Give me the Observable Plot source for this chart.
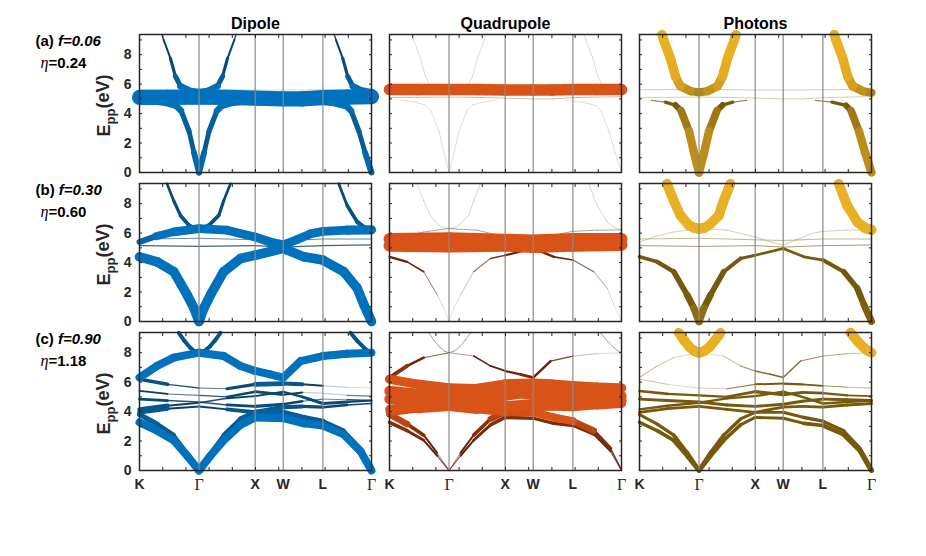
<!DOCTYPE html>
<html>
<head>
<meta charset="utf-8">
<script src="https://cdn.jsdelivr.net/npm/d3@7"></script>
<script src="https://cdn.jsdelivr.net/npm/@observablehq/plot@0.6"></script>
<style>
  html, body { margin: 0; padding: 0; background: #fff; }
  svg { display: block; }
</style>
</head>
<body>
<div id="chart"></div>
<script>
// ---------- data ----------
const columns = ["D", "Q", "P"];
const columnTitles = ["Dipole", "Quadrupole", "Photons"];
const rowKeys = ["a", "b", "c"];
const fillFractions = ["0.06", "0.30", "0.90"];
const etaValues = ["0.24", "0.60", "1.18"];

// high-symmetry points along K-Γ-X-W-L-Γ (path length units)
const symK = [0, 1.0607, 2.0607, 2.5607, 3.2678, 4.1338];
const symLabels = ["K", "Γ", "X", "W", "L", "Γ"];
const yMajorTicks = [0, 2, 4, 6, 8];
const yMinorTicks = [0, 1, 2, 3, 4, 5, 6, 7, 8, 9];
const xMinorTicks = [0.4134, 0.8268, 1.2401, 1.6535, 2.0669, 2.4803, 2.8937, 3.3070, 3.7204];
const yMax = 9.37;

// bands: k (path), e (eV), d / q / p = dipole, quadrupole, photon weights
const ks10 = [0, 0.5, 1.0607, 1.56, 2.0607, 2.5607, 2.9, 3.2678, 3.7, 4.1338];

const bandsA = [
  { k: ks10, e: [5.1, 5.1, 5.12, 5.1, 5.05, 5.0, 5.0, 5.08, 5.12, 5.15], d: 0.95, q: 0.04, p: 0.04 },
  { k: ks10, e: [5.63, 5.63, 5.63, 5.63, 5.6, 5.6, 5.6, 5.63, 5.63, 5.63], d: 0.03, q: 0.72, p: 0.04 },
  { k: [0.40, 0.43, 0.55, 0.64, 0.73, 0.91, 1.0607, 1.21, 1.39, 1.48, 1.57, 1.69, 1.72],
    e: [9.37, 9.01, 7.77, 6.53, 5.86, 5.52, 5.45, 5.52, 5.86, 6.53, 7.77, 9.01, 9.37],
    d: [0.08, 0.1, 0.15, 0.25, 0.38, 0.45, 0.45, 0.45, 0.38, 0.25, 0.15, 0.1, 0.08],
    q: 0.025,
    p: [0.6, 0.6, 0.6, 0.58, 0.55, 0.52, 0.5, 0.52, 0.55, 0.58, 0.6, 0.6, 0.6] },
  { k: [0.21, 0.46, 0.64, 0.74, 0.883, 0.971, 1.0607, 1.151, 1.239, 1.381, 1.481, 1.661, 1.911],
    e: [4.9, 4.78, 4.58, 4.2, 2.8, 1.35, 0, 1.35, 2.8, 4.2, 4.58, 4.78, 4.9],
    d: [0.5, 0.5, 0.45, 0.35, 0.3, 0.3, 0.45, 0.3, 0.3, 0.35, 0.45, 0.5, 0.5],
    q: 0.02,
    p: [0.02, 0.12, 0.3, 0.45, 0.52, 0.53, 0.53, 0.53, 0.52, 0.45, 0.3, 0.12, 0.02] },
  { k: [3.47, 3.50, 3.62, 3.71, 3.80, 3.98, 4.1338],
    e: [9.37, 9.01, 7.77, 6.53, 5.86, 5.52, 5.42],
    d: [0.08, 0.1, 0.15, 0.25, 0.38, 0.45, 0.5], q: 0.025,
    p: [0.6, 0.6, 0.6, 0.58, 0.55, 0.52, 0.5] },
  { k: [3.13, 3.43, 3.68, 3.77, 3.91, 4.02, 4.1338],
    e: [4.9, 4.78, 4.55, 4.2, 2.8, 1.35, 0],
    d: [0.5, 0.5, 0.45, 0.35, 0.3, 0.3, 0.45], q: 0.02,
    p: [0.02, 0.12, 0.3, 0.45, 0.52, 0.53, 0.53] }
];

const bandsB = [
  { k: [0, 0.3, 0.61, 1.0607, 1.56, 2.0607, 2.33, 2.5607, 2.8, 3.05, 3.2678, 3.7, 4.1338],
    e: [5.4, 5.8, 6.08, 6.31, 6.2, 5.74, 5.4, 5.2, 5.55, 5.96, 6.12, 6.2, 6.22],
    d: [0.3, 0.45, 0.55, 0.55, 0.55, 0.55, 0.55, 0.55, 0.55, 0.55, 0.55, 0.55, 0.6],
    q: 0.05, p: 0.04 },
  { k: [0, 0.315, 0.61, 0.85, 0.97, 1.0607, 1.146, 1.265, 1.50, 1.80, 2.0607, 2.5607, 2.93, 3.2678, 3.64, 3.88, 4.0, 4.1338],
    e: [4.39, 4.05, 3.38, 1.8, 0.9, 0, 0.9, 1.8, 3.38, 4.28, 4.5, 4.96, 4.39, 4.17, 3.38, 2.26, 1.13, 0],
    d: 0.6,
    q: [0.15, 0.12, 0.08, 0.04, 0.02, 0.01, 0.02, 0.03, 0.05, 0.08, 0.1, 0.18, 0.12, 0.08, 0.06, 0.04, 0.02, 0.01],
    p: [0.2, 0.25, 0.3, 0.4, 0.45, 0.47, 0.45, 0.4, 0.3, 0.2, 0.17, 0.17, 0.17, 0.2, 0.3, 0.38, 0.42, 0.45] },
  { k: [0.49, 0.61, 0.73, 0.88, 0.97, 1.0607, 1.15, 1.235, 1.413, 1.50, 1.62],
    e: [9.35, 8.2, 7.2, 6.53, 6.36, 6.31, 6.36, 6.53, 7.2, 8.2, 9.35],
    d: [0.15, 0.18, 0.22, 0.25, 0.28, 0.3, 0.28, 0.25, 0.22, 0.18, 0.15], q: 0.03,
    p: [0.62, 0.62, 0.62, 0.62, 0.63, 0.65, 0.63, 0.62, 0.62, 0.62, 0.62] },
  { k: [3.55, 3.70, 3.88, 4.02, 4.1338],
    e: [9.35, 7.88, 6.76, 6.35, 6.22],
    d: [0.15, 0.2, 0.25, 0.3, 0.35], q: 0.03, p: [0.62, 0.62, 0.62, 0.63, 0.65] },
  { k: [0, 1.0607, 2.0607, 2.5607, 3.2678, 4.1338], e: [5.6, 5.65, 5.55, 5.5, 5.6, 5.6], d: 0.06, q: 0.75, p: 0.05 },
  { k: [0, 1.0607, 2.0607, 2.5607, 3.2678, 4.1338], e: [5.15, 5.1, 5.15, 5.05, 5.15, 5.2], d: 0.08, q: 0.75, p: 0.06 }
];

const ks15 = [0, 0.315, 0.61, 0.85, 1.0607, 1.265, 1.50, 1.80, 2.0607, 2.5607, 2.93, 3.2678, 3.64, 3.94, 4.1338];
const bandsC = [
  { k: [0, 0.315, 0.61, 1.0607, 1.50, 1.80, 2.0607, 2.33, 2.5607, 2.87, 3.2678, 3.70, 4.1338],
    e: [6.31, 7.1, 7.66, 8.0, 7.77, 7.1, 6.76, 6.53, 6.31, 7.43, 7.77, 7.93, 8.0],
    d: 0.5,
    q: [0.3, 0.2, 0.12, 0.02, 0.08, 0.12, 0.12, 0.15, 0.2, 0.12, 0.05, 0.03, 0.02],
    p: [0.06, 0.05, 0.04, 0.03, 0.04, 0.06, 0.08, 0.1, 0.1, 0.08, 0.06, 0.05, 0.04] },
  { k: [0.70, 0.80, 0.90, 0.98, 1.0607, 1.15, 1.25, 1.35, 1.443],
    e: [9.35, 8.8, 8.35, 8.1, 8.0, 8.1, 8.4, 8.85, 9.35],
    d: 0.25, q: 0.05, p: 0.62 },
  { k: [3.76, 3.88, 4.0, 4.07, 4.1338], e: [9.35, 8.8, 8.34, 8.12, 8.0], d: 0.25, q: 0.05, p: 0.62 },
  { k: ks15,
    e: [3.27, 2.7, 2.05, 1.0, 0, 1.0, 2.05, 3.1, 3.6, 3.55, 3.2, 3.05, 2.45, 1.3, 0],
    d: 0.5,
    q: [0.25, 0.2, 0.15, 0.1, 0.05, 0.1, 0.15, 0.2, 0.25, 0.2, 0.2, 0.2, 0.15, 0.1, 0.05],
    p: [0.2, 0.22, 0.25, 0.28, 0.3, 0.28, 0.25, 0.2, 0.18, 0.18, 0.2, 0.25, 0.3, 0.32, 0.35] },
  { k: ks15,
    e: [3.8, 3.15, 2.4, 1.2, 0, 1.2, 2.4, 3.5, 3.95, 3.95, 3.6, 3.35, 2.7, 1.5, 0.05],
    d: [0.35, 0.3, 0.25, 0.2, 0.2, 0.2, 0.25, 0.3, 0.35, 0.35, 0.3, 0.3, 0.25, 0.2, 0.2],
    q: [0.5, 0.3, 0.15, 0.08, 0.03, 0.08, 0.15, 0.3, 0.45, 0.5, 0.5, 0.5, 0.3, 0.12, 0.05],
    p: [0.18, 0.2, 0.22, 0.25, 0.28, 0.25, 0.22, 0.2, 0.18, 0.18, 0.2, 0.22, 0.2, 0.15, 0.1] },
  { k: ks10, e: [6.2, 5.85, 5.6, 5.55, 5.85, 5.9, 5.85, 5.75, 5.65, 5.6],
    d: [0.3, 0.15, 0.03, 0.1, 0.3, 0.3, 0.2, 0.05, 0.03, 0.02],
    q: [0.55, 0.6, 0.6, 0.6, 0.65, 0.65, 0.6, 0.6, 0.6, 0.6],
    p: [0.05, 0.04, 0.03, 0.05, 0.1, 0.15, 0.15, 0.08, 0.05, 0.05] },
  { k: ks10, e: [5.4, 5.2, 5.1, 5.0, 5.35, 5.15, 5.3, 5.25, 5.1, 5.05],
    d: [0.12, 0.1, 0.03, 0.15, 0.15, 0.2, 0.05, 0.03, 0.05, 0.08],
    q: 0.65, p: [0.18, 0.15, 0.12, 0.15, 0.2, 0.2, 0.18, 0.15, 0.12, 0.12] },
  { k: ks10, e: [4.85, 4.75, 4.65, 4.45, 4.35, 4.5, 4.7, 4.85, 4.8, 4.75],
    d: [0.2, 0.15, 0.03, 0.15, 0.2, 0.2, 0.1, 0.04, 0.08, 0.12], q: 0.65, p: 0.18 },
  { k: ks10, e: [4.15, 4.4, 4.6, 4.9, 5.05, 5.35, 5.0, 4.55, 4.65, 4.75],
    d: [0.35, 0.2, 0.04, 0.15, 0.1, 0.15, 0.12, 0.25, 0.15, 0.1],
    q: [0.5, 0.6, 0.6, 0.6, 0.6, 0.6, 0.6, 0.55, 0.6, 0.6], p: 0.15 },
  { k: ks10, e: [3.95, 4.2, 4.35, 4.15, 3.95, 4.3, 4.35, 4.3, 4.45, 4.55],
    d: [0.35, 0.2, 0.05, 0.2, 0.3, 0.3, 0.2, 0.2, 0.12, 0.08],
    q: [0.4, 0.55, 0.6, 0.55, 0.45, 0.5, 0.55, 0.5, 0.55, 0.6], p: 0.18 }
];

// ---------- derived tables ----------
const bandSets = { a: bandsA, b: bandsB, c: bandsC };
const weightKey = { D: "d", Q: "q", P: "p" };
const at = (v, i) => Array.isArray(v) ? v[i] : v;
const segments = [];
for (const row of rowKeys) {
  for (const band of bandSets[row]) {
    for (const col of columns) {
      const wt = band[weightKey[col]];
      for (let i = 0; i < band.k.length - 1; i++) {
        segments.push({
          row, col,
          k1: band.k[i], e1: band.e[i], k2: band.k[i + 1], e2: band.e[i + 1],
          w: (at(wt, i) + at(wt, i + 1)) / 2
        });
      }
    }
  }
}
segments.sort((a, b) => a.w - b.w);

const palette = {
  D: d3.scaleLinear().domain([0.1, 0.45]).range(["#0c3d5e", "#0072bd"]).clamp(true),
  Q: d3.scaleLinear().domain([0.1, 0.5]).range(["#5e1d06", "#d95319"]).clamp(true),
  P: d3.scaleLinear().domain([0.42, 0.6]).range(["#76590b", "#eab024"]).clamp(true)
};

const titleRows = columns.map((col, i) => ({ col, row: "a", t: columnTitles[i] }));
const rowLabelRows = rowKeys.map((row, i) => ({ col: "D", row, f: fillFractions[i], eta: etaValues[i] }));
const kLabelRows = [];
for (const col of columns) symK.forEach((k, i) => kLabelRows.push({ col, row: "c", k, label: symLabels[i] }));
const kSans = kLabelRows.filter(d => d.label !== "Γ");
const kGamma = kLabelRows.filter(d => d.label === "Γ");
const innerLines = symK.slice(1, -1);

const ink = "#262626";
const chart = Plot.plot({
  width: 926,
  height: 556,
  marginLeft: 139,
  marginRight: 55,
  marginTop: 33,
  marginBottom: 84,
  style: { fontFamily: "'Liberation Sans', Arial, sans-serif", color: ink, background: "#fff" },
  x: { domain: [0, symK[symK.length - 1]], axis: null },
  y: { domain: [0, yMax], axis: null },
  fx: { domain: columns, paddingInner: 0.072, paddingOuter: 0, axis: null, label: null },
  fy: { domain: rowKeys, paddingInner: 0.0733, paddingOuter: 0, axis: null, label: null },
  marks: [
    Plot.link(segments, {
      fx: "col", fy: "row",
      x1: "k1", y1: "e1", x2: "k2", y2: "e2",
      stroke: d => palette[d.col](d.w),
      strokeWidth: d => Math.max(0.5, 16 * d.w),
      strokeOpacity: d => Math.min(1, 0.15 + 8 * d.w),
      strokeLinecap: "round"
    }),
    Plot.ruleX(innerLines, { stroke: "#8a8a8a", strokeWidth: 1.2 }),
    Plot.axisY({ anchor: "left", ticks: yMinorTicks, tickSize: -3, tickFormat: () => "", facetAnchor: null, label: null }),
    Plot.axisY({ anchor: "right", ticks: yMinorTicks, tickSize: -3, tickFormat: () => "", facetAnchor: null, label: null }),
    Plot.axisX({ anchor: "bottom", ticks: xMinorTicks, tickSize: -3, tickFormat: () => "", facetAnchor: null, label: null }),
    Plot.axisX({ anchor: "top", ticks: xMinorTicks, tickSize: -3, tickFormat: () => "", facetAnchor: null, label: null }),
    Plot.frame({ stroke: ink, strokeWidth: 1.5 }),
    Plot.axisY({ anchor: "left", ticks: yMajorTicks, tickSize: 0, tickPadding: 8, fontSize: 14, fontWeight: "bold", label: null }),
    Plot.text(kSans, { fx: "col", fy: "row", x: "k", text: "label", frameAnchor: "bottom", lineAnchor: "middle", dy: 14, fontSize: 14, fontWeight: "bold" }),
    Plot.text(kGamma, { fx: "col", fy: "row", x: "k", text: "label", frameAnchor: "bottom", lineAnchor: "middle", dy: 14, fontSize: 16, fontFamily: "'Liberation Serif', 'DejaVu Serif', serif" }),
    Plot.text(titleRows, { fx: "col", fy: "row", text: "t", frameAnchor: "top", lineAnchor: "middle", dy: -11, fontSize: 16, fontWeight: "bold", fill: "#000" }),
    Plot.text(rowLabelRows, { fx: "col", fy: "row", text: d => `(${d.row}) f=${d.f}`, frameAnchor: "top-left", lineAnchor: "middle", textAnchor: "start", dx: -104, dy: 7, fontSize: 15, fontWeight: "bold", fill: "#000" }),
    Plot.text(rowLabelRows, { fx: "col", fy: "row", text: d => `η=${d.eta}`, frameAnchor: "top-left", lineAnchor: "middle", textAnchor: "start", dx: -99, dy: 29, fontSize: 15, fontWeight: "bold", fill: "#000" }),
    Plot.text(rowLabelRows, { fx: "col", fy: "row", text: () => "Epp(eV)", frameAnchor: "left", textAnchor: "middle", lineAnchor: "middle", rotate: -90, dx: -35, dy: 2, fontSize: 18, fontWeight: "bold" })
  ]
});

// rich text: italics, serif eta, subscript
const NS = "http://www.w3.org/2000/svg";
function tspan(parent, str, attrs) {
  const t = document.createElementNS(NS, "tspan");
  for (const [a, v] of Object.entries(attrs || {})) t.setAttribute(a, v);
  t.textContent = str;
  parent.appendChild(t);
  return t;
}
chart.querySelectorAll("text").forEach(node => {
  const s = node.textContent;
  let m;
  if ((m = s.match(/^\((\w)\) f=(.+)$/))) {
    node.textContent = "";
    tspan(node, `(${m[1]}) `);
    tspan(node, `f=${m[2]}`, { "font-style": "italic" });
  } else if ((m = s.match(/^η=(.+)$/))) {
    node.textContent = "";
    tspan(node, "η", { "font-family": "'Liberation Serif', 'DejaVu Serif', serif", "font-style": "italic", "font-weight": "normal", "font-size": "16" });
    tspan(node, `=${m[1]}`);
  } else if (s === "Epp(eV)") {
    node.textContent = "";
    tspan(node, "E");
    tspan(node, "pp", { "font-size": "13", dy: "0.35em" });
    tspan(node, "(eV)", { dy: "-0.35em" });
  }
});

document.getElementById("chart").appendChild(chart);
</script>
</body>
</html>
